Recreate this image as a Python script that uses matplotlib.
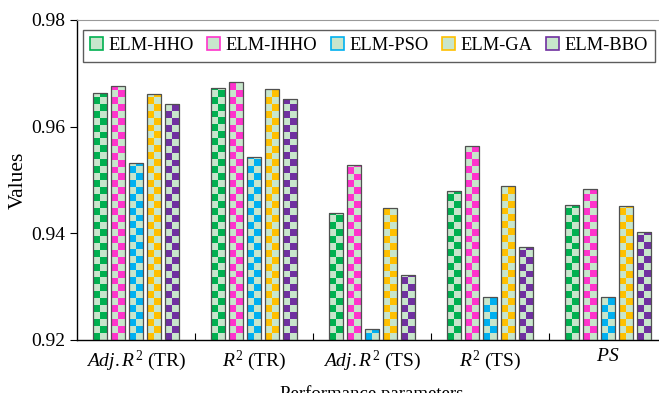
import numpy as np
import matplotlib
matplotlib.use("Agg")
import matplotlib.pyplot as plt
from matplotlib.colors import ListedColormap
from matplotlib.patches import Rectangle

plt.rcParams['font.family'] = ['Liberation Serif', 'DejaVu Serif']
plt.rcParams['mathtext.fontset'] = 'custom'
plt.rcParams['mathtext.rm'] = 'Liberation Serif'
plt.rcParams['mathtext.it'] = 'Liberation Serif:italic'

# data
categories = [r'$\mathit{Adj.R}^{\mathrm{2}}$ (TR)', r'$\mathit{R}^{\mathrm{2}}$ (TR)',
              r'$\mathit{Adj.R}^{\mathrm{2}}$ (TS)', r'$\mathit{R}^{\mathrm{2}}$ (TS)',
              r'$\mathit{PS}$']
models = ['ELM-HHO', 'ELM-IHHO', 'ELM-PSO', 'ELM-GA', 'ELM-BBO']
hho = [0.9664, 0.9673, 0.9438, 0.9480, 0.9454]
ihho = [0.9676, 0.9683, 0.9528, 0.9564, 0.9484]
pso = [0.9532, 0.9544, 0.9220, 0.9280, 0.9280]
ga = [0.9662, 0.9670, 0.9447, 0.9489, 0.9451]
bbo = [0.9642, 0.9651, 0.9321, 0.9374, 0.9403]
series = [hho, ihho, pso, ga, bbo]

colors = ['#00b050', '#ff33cc', '#00b0f0', '#ffc000', '#7030a0']
LIGHT = '#c8e6cc'
EDGE = '#505050'
YMIN, YMAX = 0.92, 0.98
CELL_H = 0.0013   # checker cell height in data units

fig = plt.figure(figsize=(6.59, 3.93), dpi=100)
ax = fig.add_axes([77 / 659, 1 - 340 / 393, 590 / 659, 320 / 393])

x = np.arange(len(categories))
step = 0.153
width = 0.119

for k, (vals, col) in enumerate(zip(series, colors)):
    bars = ax.bar(x + (k - 2) * step, vals, width, bottom=0,
                  facecolor='none', edgecolor=EDGE, linewidth=0.9, zorder=3)
    cmap = ListedColormap([LIGHT, col])
    for b in bars:
        x0 = b.get_x()
        h = b.get_height() - YMIN
        nrows = int(np.ceil(h / CELL_H))
        rows = np.arange(nrows)[::-1][:, None]
        cols = np.arange(2)[None, :]
        checker = (rows + cols + 1) % 2
        im = ax.imshow(checker, cmap=cmap, vmin=0, vmax=1, interpolation='nearest',
                       extent=(x0, x0 + width, YMIN, YMIN + nrows * CELL_H),
                       aspect='auto', zorder=2)
        im.set_clip_path(b)

ax.set_xlim(-0.5, 4.5)
ax.set_ylim(YMIN, YMAX)
ax.set_aspect('auto')

ax.set_xticks(x)
ax.set_xticklabels(categories, fontsize=14)
ax.set_xticks(x[:-1] + 0.5, minor=True)
ax.tick_params(axis='x', which='major', length=0, pad=6)
ax.tick_params(axis='x', which='minor', direction='in', length=5, width=0.8)
ax.set_yticks([0.92, 0.94, 0.96, 0.98])
ax.set_yticklabels(['0.92', '0.94', '0.96', '0.98'], fontsize=14)
ax.tick_params(axis='y', direction='out', length=5, width=0.8)

ax.spines['top'].set_color('#999999')
ax.spines['left'].set_linewidth(1.0)
ax.spines['bottom'].set_linewidth(1.0)

ax.set_xlabel('Performance parameters', fontsize=13.5, labelpad=9)
ax.set_ylabel('Values', fontsize=15.5)
ax.yaxis.set_label_coords(-0.083, 0.5)

handles = [Rectangle((0, 0), 1, 1, facecolor=LIGHT, edgecolor=c, linewidth=1.2)
           for c in colors]
leg = ax.legend(handles, models, loc='upper left', bbox_to_anchor=(0.01, 0.969),
                ncol=5, fontsize=13.3, frameon=True, fancybox=False,
                borderaxespad=0, handlelength=0.7, handleheight=0.7,
                handletextpad=0.3, columnspacing=0.72, borderpad=0.4)
leg.get_frame().set_edgecolor('#333333')
leg.get_frame().set_linewidth(1.0)

fig.savefig('out.png', dpi=100)
